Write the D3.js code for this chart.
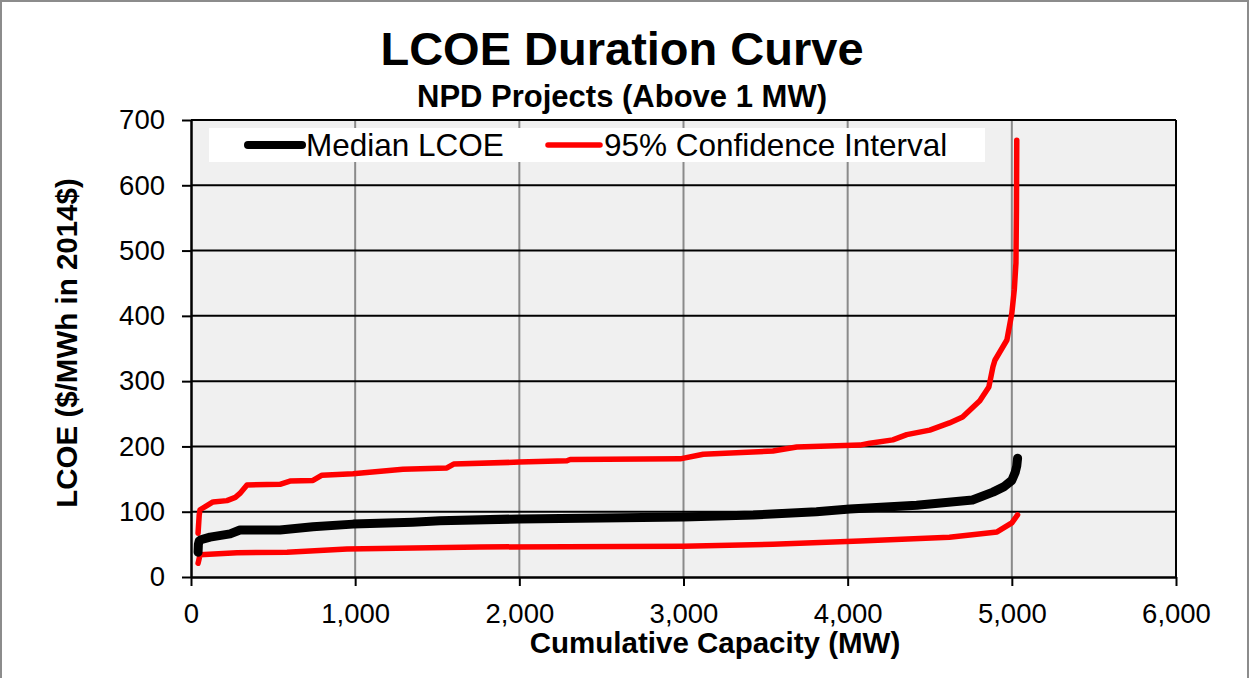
<!DOCTYPE html>
<html>
<head>
<meta charset="utf-8">
<script src="https://cdn.jsdelivr.net/npm/d3@7"></script>
<style>
  body { margin: 0; background: #fff; }
  svg { display: block; font-family: "Liberation Sans", Arial, sans-serif; }
</style>
</head>
<body>
<svg id="chart" width="1249" height="678"></svg>
<script>
// cumulative capacity (MW) / LCOE ($/MWh)
const medianMW   = [43, 45, 50, 60, 116, 238, 298, 542, 743, 987, 1350, 1516, 2000, 3000, 3425, 3810, 4013, 4420, 4760, 4885, 4950, 5000, 5020, 5030, 5035];
const medianLCOE = [38, 50, 55, 57, 61, 66, 72, 72, 77, 81, 84, 86, 89, 92, 95, 100, 104, 110, 118, 130, 138, 148, 160, 170, 182];

const upperMW   = [43, 50, 55, 134, 219, 270, 298, 341, 542, 603, 743, 798, 987, 1291, 1559, 1600, 2000, 2290, 2310, 2980, 3120, 3545, 3690, 4075, 4135, 4275, 4360, 4500, 4620, 4700, 4805, 4860, 4885, 4897, 4970, 5000, 5015, 5025, 5028, 5030];
const upperLCOE = [67, 95, 103, 115, 117, 122, 128, 141, 142, 147, 148, 156, 158, 165, 167, 173, 176, 178, 180, 181, 188, 193, 199, 202, 205, 210, 218, 225, 236, 245, 270, 291, 322, 332, 363, 404, 440, 481, 560, 669];

const lowerMW   = [43, 55, 280, 585, 950, 1760, 3000, 3545, 4075, 4620, 4910, 5000, 5035];
const lowerLCOE = [21, 34, 37, 38, 43, 46, 47, 50, 55, 61, 69, 83, 95];

const xTicks = [0, 1000, 2000, 3000, 4000, 5000, 6000];
const yTicks = [0, 100, 200, 300, 400, 500, 600, 700];

const LEFT   = 191;
const RIGHT  = 1176;
const TOP    = 120;
const BOTTOM = 577;

const svg = d3.select('#chart');

// outer chart frame
svg.append('rect')
    .attr('x', 1).attr('y', 1)
    .attr('width', 1247).attr('height', 700)
    .attr('fill', 'none')
    .attr('stroke', '#8c8c8c')
    .attr('stroke-width', 2);

const x = d3.scaleLinear().domain([0, 6000]).range([LEFT, RIGHT]);
const y = d3.scaleLinear().domain([0, 700]).range([BOTTOM, TOP]);

// plot background
svg.append('rect')
    .attr('x', LEFT).attr('y', TOP)
    .attr('width', RIGHT - LEFT).attr('height', BOTTOM - TOP)
    .attr('fill', '#f0f0f0');

// vertical grid (grey)
svg.append('g')
    .selectAll('line')
    .data(xTicks.slice(1, -1))
    .join('line')
    .attr('x1', d => x(d)).attr('x2', d => x(d))
    .attr('y1', TOP).attr('y2', BOTTOM)
    .attr('stroke', '#8a8a8a')
    .attr('stroke-width', 2);

// horizontal grid (black)
svg.append('g')
    .selectAll('line')
    .data(yTicks.slice(1))
    .join('line')
    .attr('x1', LEFT).attr('x2', RIGHT)
    .attr('y1', d => y(d)).attr('y2', d => y(d))
    .attr('stroke', '#000')
    .attr('stroke-width', 2);

// plot border right side
svg.append('line')
    .attr('x1', RIGHT).attr('x2', RIGHT)
    .attr('y1', TOP).attr('y2', BOTTOM)
    .attr('stroke', '#000').attr('stroke-width', 2);

// axes
const xAxis = svg.append('g')
    .attr('transform', `translate(0,${BOTTOM})`)
    .call(d3.axisBottom(x).tickValues(xTicks).tickFormat(d3.format(',')).tickSize(9).tickSizeOuter(0));

const yAxis = svg.append('g')
    .attr('transform', `translate(${LEFT},0)`)
    .call(d3.axisLeft(y).tickValues(yTicks).tickSize(9).tickSizeOuter(0));

[xAxis, yAxis].forEach(g => {
    g.select('.domain').attr('stroke', '#000').attr('stroke-width', 2.5);
    g.selectAll('.tick line').attr('stroke', '#000').attr('stroke-width', 2);
    g.selectAll('.tick text')
        .attr('fill', '#000')
        .style('font-size', '27.5px')
        .style('font-family', '"Liberation Sans", Arial, sans-serif');
});
xAxis.selectAll('.tick text').attr('y', 26).attr('dy', '0.71em');
yAxis.selectAll('.tick text').attr('x', -26);

// series lines
const line = d3.line()
    .x(d => x(d[0]))
    .y(d => y(d[1]));

const lower  = d3.zip(lowerMW, lowerLCOE);
const upper  = d3.zip(upperMW, upperLCOE);
const median = d3.zip(medianMW, medianLCOE);

[lower, upper].forEach(pts => {
    svg.append('path')
        .datum(pts)
        .attr('d', line)
        .attr('fill', 'none')
        .attr('stroke', '#ff0000')
        .attr('stroke-width', 5.5)
        .attr('stroke-linecap', 'round')
        .attr('stroke-linejoin', 'round');
});

svg.append('path')
    .datum(median)
    .attr('d', line)
    .attr('fill', 'none')
    .attr('stroke', '#000')
    .attr('stroke-width', 9)
    .attr('stroke-linecap', 'round')
    .attr('stroke-linejoin', 'round');

// legend
const legend = svg.append('g');
legend.append('rect')
    .attr('x', 209).attr('y', 128)
    .attr('width', 776).attr('height', 34)
    .attr('fill', '#fff');

const legendItems = [
    { label: 'Median LCOE', color: '#000', width: 8, x0: 248, x1: 302 },
    { label: '95% Confidence Interval', color: '#ff0000', width: 5.5, x0: 548, x1: 600 }
];

legendItems.forEach(item => {
    legend.append('line')
        .attr('x1', item.x0).attr('x2', item.x1)
        .attr('y1', 145).attr('y2', 145)
        .attr('stroke', item.color)
        .attr('stroke-width', item.width)
        .attr('stroke-linecap', 'round');
    legend.append('text')
        .attr('x', item.x1 + 4).attr('y', 156)
        .style('font-size', '31.5px')
        .text(item.label);
});

// titles
svg.append('text')
    .attr('x', 622).attr('y', 65)
    .attr('text-anchor', 'middle')
    .style('font-size', '47px').style('font-weight', 'bold')
    .text('LCOE Duration Curve');

svg.append('text')
    .attr('x', 622).attr('y', 107)
    .attr('text-anchor', 'middle')
    .style('font-size', '31px').style('font-weight', 'bold')
    .text('NPD Projects (Above 1 MW)');

svg.append('text')
    .attr('x', 715).attr('y', 653)
    .attr('text-anchor', 'middle')
    .style('font-size', '29.5px').style('font-weight', 'bold')
    .text('Cumulative Capacity (MW)');

svg.append('text')
    .attr('transform', 'translate(77,343) rotate(-90)')
    .attr('text-anchor', 'middle')
    .style('font-size', '29.5px').style('font-weight', 'bold')
    .text('LCOE ($/MWh in 2014$)');
</script>
</body>
</html>
